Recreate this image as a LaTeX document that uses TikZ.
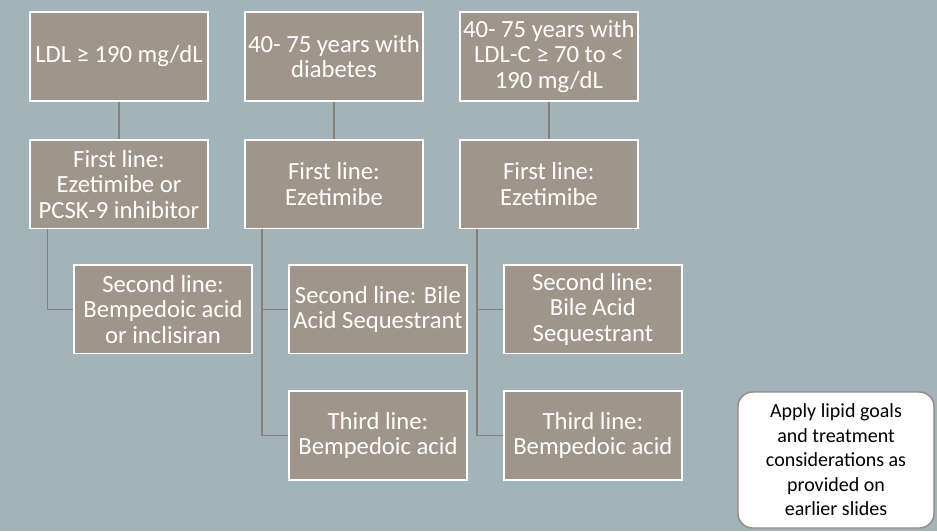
\documentclass[tikz,border=0pt]{standalone}
\usepackage{fontspec}
\setmainfont{Carlito}
\usepackage{xcolor}
\usetikzlibrary{positioning}
\definecolor{slidebg}{RGB}{163,179,186}
\definecolor{boxfill}{RGB}{160,149,138}
\definecolor{linkcol}{RGB}{137,127,117}
\definecolor{noteedge}{RGB}{150,140,130}

\begin{document}
\begin{tikzpicture}[x=0.75pt, y=-0.75pt,
    box/.style={draw=white, line width=1.1pt, fill=boxfill, text=white, align=center, inner sep=2pt,
        minimum width=133.5pt, minimum height=66.5pt, font=\fontsize{18.5}{19.1}\selectfont},
    note/.style={draw=noteedge, line width=1.1pt, fill=white, text=black, align=center, rounded corners=11pt,
        minimum width=147pt, minimum height=102pt, font=\fontsize{15}{18.4}\selectfont},
    link/.style={draw=linkcol, line width=1.1pt}]
    \fill[slidebg] (0,0) rectangle (937,531);
    \node[box] (ldl) at (119,56.5) {LDL ≥ 190 mg/dL};
    \node[box, right=26.6pt of ldl] (diab) {40- 75 years with\\diabetes};
    \node[box, right=26.6pt of diab] (ldlc) {40- 75 years with\\LDL-C ≥ 70 to <\\190 mg/dL};
    \node[box, below=28.2pt of ldl] (firstA) {First line:\\Ezetimibe or\\PCSK-9 inhibitor};
    \node[box, below=28.2pt of diab] (firstB) {First line:\\Ezetimibe};
    \node[box, below=28.2pt of ldlc] (firstC) {First line:\\Ezetimibe};
    \node[box, below=26.2pt of firstA, xshift=33pt] (secondA) {Second line:\\Bempedoic acid\\or inclisiran};
    \node[box, below=26.2pt of firstB, xshift=33pt] (secondB) {Second line: Bile\\Acid Sequestrant};
    \node[box, below=26.2pt of firstC, xshift=33pt] (secondC) {Second line:\\Bile Acid\\Sequestrant};
    \node[box, below=27pt of secondB] (thirdB) {Third line:\\Bempedoic acid};
    \node[box, below=27pt of secondC] (thirdC) {Third line:\\Bempedoic acid};
    \node[note] (goals) at (836,460) {Apply lipid goals\\and treatment\\considerations as\\provided on\\earlier slides};
    \coordinate[right=13.5pt of firstA.south west] (stemA);
    \coordinate[right=13.5pt of firstB.south west] (stemB);
    \coordinate[right=13.5pt of firstC.south west] (stemC);
    \foreach \from/\to in {ldl/firstA, diab/firstB, ldlc/firstC}
        \draw[link] (\from) -- (\to);
    \draw[link] (stemA) |- (secondA);
    \draw[link] (stemB) |- (thirdB);
    \draw[link] (stemB |- secondB) -- (secondB);
    \draw[link] (stemC) |- (thirdC);
    \draw[link] (stemC |- secondC) -- (secondC);
\end{tikzpicture}
\end{document}
